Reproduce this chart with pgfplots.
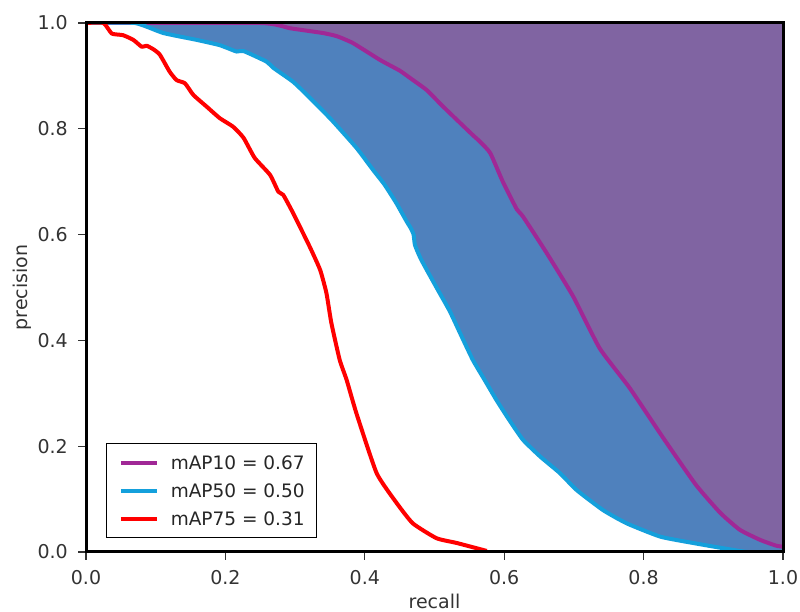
\documentclass[border=0pt]{standalone}
\usepackage{fontspec}
\setmainfont{DejaVu Sans}
\usepackage{pgfplots}
\pgfplotsset{compat=1.18}
\usepackage{pgfplotstable}
\usepgfplotslibrary{fillbetween}

\definecolor{purplefill}{RGB}{128,100,162}
\definecolor{bluefill}{RGB}{79,129,189}
\definecolor{purpleline}{RGB}{160,40,150}
\definecolor{blueline}{RGB}{20,160,220}
\definecolor{redline}{RGB}{255,0,0}

\pgfplotstableread{
x y
0.000 1.000
0.250 1.000
0.293 0.990
0.340 0.981
0.360 0.975
0.383 0.962
0.422 0.930
0.450 0.910
0.465 0.896
0.489 0.873
0.510 0.845
0.532 0.817
0.555 0.788
0.565 0.776
0.580 0.754
0.598 0.700
0.618 0.648
0.627 0.634
0.661 0.565
0.699 0.483
0.737 0.385
0.780 0.310
0.830 0.212
0.875 0.127
0.910 0.074
0.938 0.042
0.967 0.023
0.990 0.012
1.000 0.010
}\pten

\pgfplotstableread{
x y
0.000 1.000
0.070 1.000
0.111 0.981
0.159 0.968
0.192 0.958
0.216 0.946
0.226 0.947
0.259 0.927
0.269 0.915
0.297 0.889
0.317 0.864
0.336 0.839
0.355 0.813
0.388 0.764
0.412 0.722
0.428 0.695
0.445 0.660
0.460 0.625
0.466 0.612
0.470 0.600
0.472 0.580
0.480 0.555
0.489 0.533
0.505 0.495
0.522 0.455
0.538 0.410
0.555 0.363
0.572 0.325
0.589 0.287
0.607 0.250
0.627 0.212
0.652 0.180
0.680 0.149
0.704 0.117
0.742 0.079
0.776 0.054
0.824 0.029
0.871 0.017
0.919 0.006
0.950 0.000
1.000 0.000
}\pfifty

\pgfplotstableread{
x y
0.000 1.000
0.025 1.000
0.037 0.980
0.053 0.977
0.068 0.968
0.080 0.955
0.087 0.957
0.097 0.950
0.106 0.940
0.120 0.908
0.130 0.892
0.142 0.886
0.154 0.864
0.173 0.842
0.192 0.820
0.211 0.804
0.226 0.783
0.242 0.745
0.264 0.713
0.276 0.681
0.283 0.675
0.297 0.641
0.321 0.577
0.336 0.533
0.345 0.489
0.352 0.433
0.364 0.363
0.374 0.325
0.388 0.262
0.417 0.149
0.446 0.092
0.469 0.054
0.503 0.026
0.532 0.017
0.575 0.002
}\pseventyfive

\begin{document}
\begin{tikzpicture}
\begin{axis}[
  width=697pt, height=529pt, scale only axis,
  xmin=0, xmax=1, ymin=0, ymax=1,
  xtick={0,0.2,0.4,0.6,0.8,1}, ytick={0,0.2,0.4,0.6,0.8,1},
  /pgf/number format/assume math mode=true,
  /pgf/number format/fixed,
  /pgf/number format/fixed zerofill,
  /pgf/number format/precision=1,
  tick label style={font=\fontsize{19}{23}\selectfont, text=black!80},
  yticklabel style={inner sep=0pt, xshift=-10pt},
  xticklabel style={inner sep=0pt, yshift=-10pt},
  tick pos=left, tick align=outside, major tick length=8pt,
  tick style={black!80, line width=1.2pt},
  axis line style={line width=3pt, black},
  axis on top,
  xlabel={recall}, ylabel={precision},
  label style={font=\fontsize{19}{23}\selectfont, text=black!80},
  xlabel style={at={(axis description cs:0.5,-0.1059)}, anchor=base},
  ylabel style={at={(axis description cs:-0.0846,0.5)}, anchor=base},
  legend cell align=left,
  legend style={at={(0.029,0.026)}, anchor=south west, draw=black, line width=1.2pt,
    fill=white, font=\fontsize{18.5}{22}\selectfont, text=black!85,
    inner xsep=12pt, inner ysep=12pt, row sep=14pt, column sep=12pt,
    nodes={inner sep=0pt, text height=14pt, text depth=0pt}},
  legend image code/.code={\draw[#1] (0pt,0pt) -- (36pt,0pt);},
]
\addplot[draw=none, name path=top, forget plot] coordinates {(0,1) (1,1)};
\addplot[draw=none, name path=p10, forget plot, smooth, tension=0.3] table {\pten};
\addplot[draw=none, name path=p50, forget plot, smooth, tension=0.3] table {\pfifty};
\addplot[bluefill, draw=none, forget plot] fill between[of=p50 and top];
\addplot[purplefill, draw=none, forget plot] fill between[of=p10 and top];
\addplot[purpleline, line width=4pt, line join=round, smooth, tension=0.3] table {\pten};
\addlegendentry{mAP10 = 0.67}
\addplot[blueline, line width=4pt, line join=round, smooth, tension=0.3] table {\pfifty};
\addlegendentry{mAP50 = 0.50}
\addplot[redline, line width=4pt, line join=round, smooth, tension=0.3] table {\pseventyfive};
\addlegendentry{mAP75 = 0.31}
\coordinate (SW) at (rel axis cs:0,0);
\coordinate (NE) at (rel axis cs:1,1);
\end{axis}
\pgfresetboundingbox
\path ([shift={(-86pt,-60pt)}]SW) rectangle ([shift={(17pt,23pt)}]NE);
\end{tikzpicture}
\end{document}
